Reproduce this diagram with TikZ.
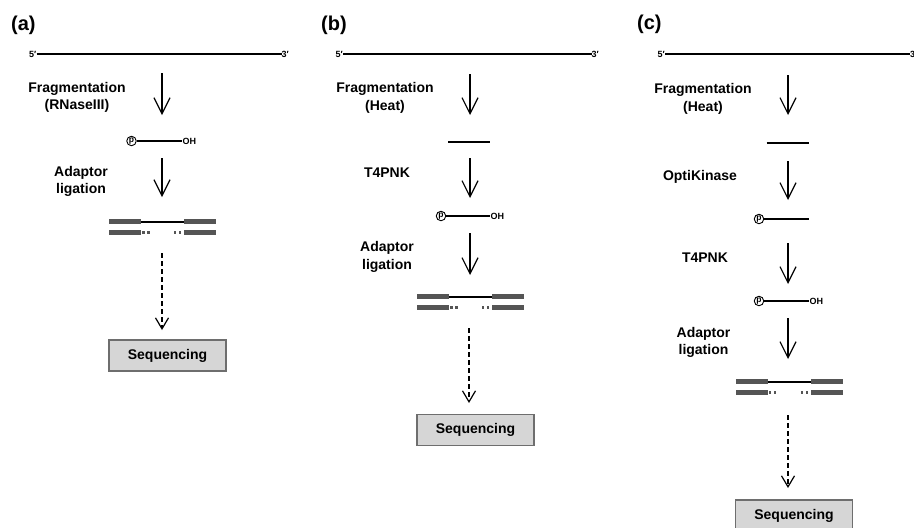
\documentclass[tikz,border=0pt]{standalone}
\usepackage{fontspec}
\setmainfont{Liberation Sans}
\usetikzlibrary{arrows.meta}
\definecolor{bargrey}{HTML}{555555}
\definecolor{boxfill}{HTML}{D6D6D6}
\definecolor{boxline}{HTML}{6E6E6E}
\tikzset{
  panel/.style={font=\fontsize{20}{24}\selectfont\bfseries, anchor=west, inner sep=0pt},
  lbl/.style={font=\fontsize{14}{17.5}\selectfont\bfseries, align=center, inner sep=0pt},
  prime/.style={font=\fontsize{9}{10}\selectfont\bfseries, inner sep=0pt},
  ohlbl/.style={font=\fontsize{9}{10}\selectfont\bfseries, inner sep=0pt, anchor=west},
  pcirc/.style={circle, draw, line width=0.9pt, inner sep=0pt, minimum size=9.5pt, font=\fontsize{8.5}{8.5}\selectfont\bfseries},
  strand/.style={line width=2.2pt},
  steparrow/.style={line width=1.2pt, -{Straight Barb[length=16pt,width=16pt]}},
  dasharrow/.style={line width=1.2pt, dash pattern=on 5pt off 3pt, -{Straight Barb[length=11pt,width=13pt]}},
  seqbox/.style={draw=boxline, fill=boxfill, line width=1.2pt, minimum width=117pt, minimum height=31pt, inner sep=0pt, font=\fontsize{14}{16}\selectfont\bfseries},
  adaptor/.pic={
    \fill[bargrey] (0,-2.5) rectangle (32,2.5);
    \fill[bargrey] (75,-2.5) rectangle (107,2.5);
    \draw[strand] (32,0) -- (75,0);
    \fill[bargrey] (0,8.3) rectangle (32,13.3);
    \fill[bargrey] (75,8.3) rectangle (107,13.3);
    \foreach \dx in {34.3,39.3,66,71} \fill[bargrey] (\dx-1.2,9.6) rectangle (\dx+1.2,12.0);
  }
}
\begin{document}
\begin{tikzpicture}[x=1pt,y=-1pt]
\useasboundingbox (0,0) rectangle (914,528);

% ---------------- (a) ----------------
\node[panel] (alab) at (11,25) {(a)};
\node[prime, anchor=east] (a5) at (36.5,54) {5′};
\node[prime, anchor=west] (a3) at (281.5,54) {3′};
\draw[strand] (a5.east) -- (a3.west);
\node[lbl] (afrag) at (77,97.5) {Fragmentation\\(RNaseIII)};
\coordinate (aa1s) at (162,73); \coordinate (aa1e) at (162,115);
\draw[steparrow] (aa1s) -- (aa1e);
\node[pcirc] (ap1) at (131.5,141) {p};
\coordinate (ap1e) at (182,141);
\draw[strand] (ap1.east) -- (ap1e);
\node[ohlbl] (aoh1) at (182.5,141) {OH};
\node[lbl] (alig) at (81,181.5) {Adaptor\\ligation};
\coordinate (aa2s) at (162,158); \coordinate (aa2e) at (162,197);
\draw[steparrow] (aa2s) -- (aa2e);
\pic at (109,221.7) {adaptor};
\coordinate (ad1s) at (162,253); \coordinate (ad1e) at (162,330);
\draw[dasharrow] (ad1s) -- (ad1e);
\node[seqbox] (aseq) at (167.5,355.5) {Sequencing};

% ---------------- (b) ----------------
\node[panel] (blab) at (321,25) {(b)};
\node[prime, anchor=east] (b5) at (343,54) {5′};
\node[prime, anchor=west] (b3) at (591.5,54) {3′};
\draw[strand] (b5.east) -- (b3.west);
\node[lbl] (bfrag) at (385,98) {Fragmentation\\(Heat)};
\coordinate (ba1s) at (470,74); \coordinate (ba1e) at (470,115);
\draw[steparrow] (ba1s) -- (ba1e);
\coordinate (bf1s) at (448,142); \coordinate (bf1e) at (489.5,142);
\draw[strand] (bf1s) -- (bf1e);
\node[lbl] (bt4) at (387,173) {T4PNK};
\coordinate (ba2s) at (470,158); \coordinate (ba2e) at (470,198);
\draw[steparrow] (ba2s) -- (ba2e);
\node[pcirc] (bp1) at (441,216) {p};
\coordinate (bp1e) at (490,216);
\draw[strand] (bp1.east) -- (bp1e);
\node[ohlbl] (boh1) at (490.5,216) {OH};
\node[lbl] (blig) at (387,257) {Adaptor\\ligation};
\coordinate (ba3s) at (470,233); \coordinate (ba3e) at (470,275);
\draw[steparrow] (ba3s) -- (ba3e);
\pic at (417,296.7) {adaptor};
\coordinate (bd1s) at (469,328); \coordinate (bd1e) at (469,403);
\draw[dasharrow] (bd1s) -- (bd1e);
\node[seqbox] (bseq) at (475.5,430.3) {Sequencing};

% ---------------- (c) ----------------
\node[panel] (clab) at (637,24) {(c)};
\node[prime, anchor=east] (c5) at (665,54) {5′};
\node[prime, anchor=west] (c3) at (910,54) {3′};
\draw[strand] (c5.east) -- (c3.west);
\node[lbl] (cfrag) at (703,99) {Fragmentation\\(Heat)};
\coordinate (ca1s) at (788,75); \coordinate (ca1e) at (788,115);
\draw[steparrow] (ca1s) -- (ca1e);
\coordinate (cf1s) at (766.7,142.7); \coordinate (cf1e) at (809,142.7);
\draw[strand] (cf1s) -- (cf1e);
\node[lbl] (copti) at (700,176.7) {OptiKinase};
\coordinate (ca2s) at (788,161); \coordinate (ca2e) at (788,200);
\draw[steparrow] (ca2s) -- (ca2e);
\node[pcirc] (cp1) at (759,219) {p};
\coordinate (cp1e) at (808.7,219);
\draw[strand] (cp1.east) -- (cp1e);
\node[lbl] (ct4) at (705,258) {T4PNK};
\coordinate (ca3s) at (788,243); \coordinate (ca3e) at (788,284);
\draw[steparrow] (ca3s) -- (ca3e);
\node[pcirc] (cp2) at (759,301) {p};
\coordinate (cp2e) at (808.7,301);
\draw[strand] (cp2.east) -- (cp2e);
\node[ohlbl] (coh2) at (809.5,301) {OH};
\node[lbl] (clig) at (703.5,342.5) {Adaptor\\ligation};
\coordinate (ca4s) at (788,318); \coordinate (ca4e) at (788,359);
\draw[steparrow] (ca4s) -- (ca4e);
\pic at (735.7,381.7) {adaptor};
\coordinate (cd1s) at (788,415); \coordinate (cd1e) at (788,488);
\draw[dasharrow] (cd1s) -- (cd1e);
\node[seqbox] (cseq) at (794,515.5) {Sequencing};
\end{tikzpicture}
\end{document}
